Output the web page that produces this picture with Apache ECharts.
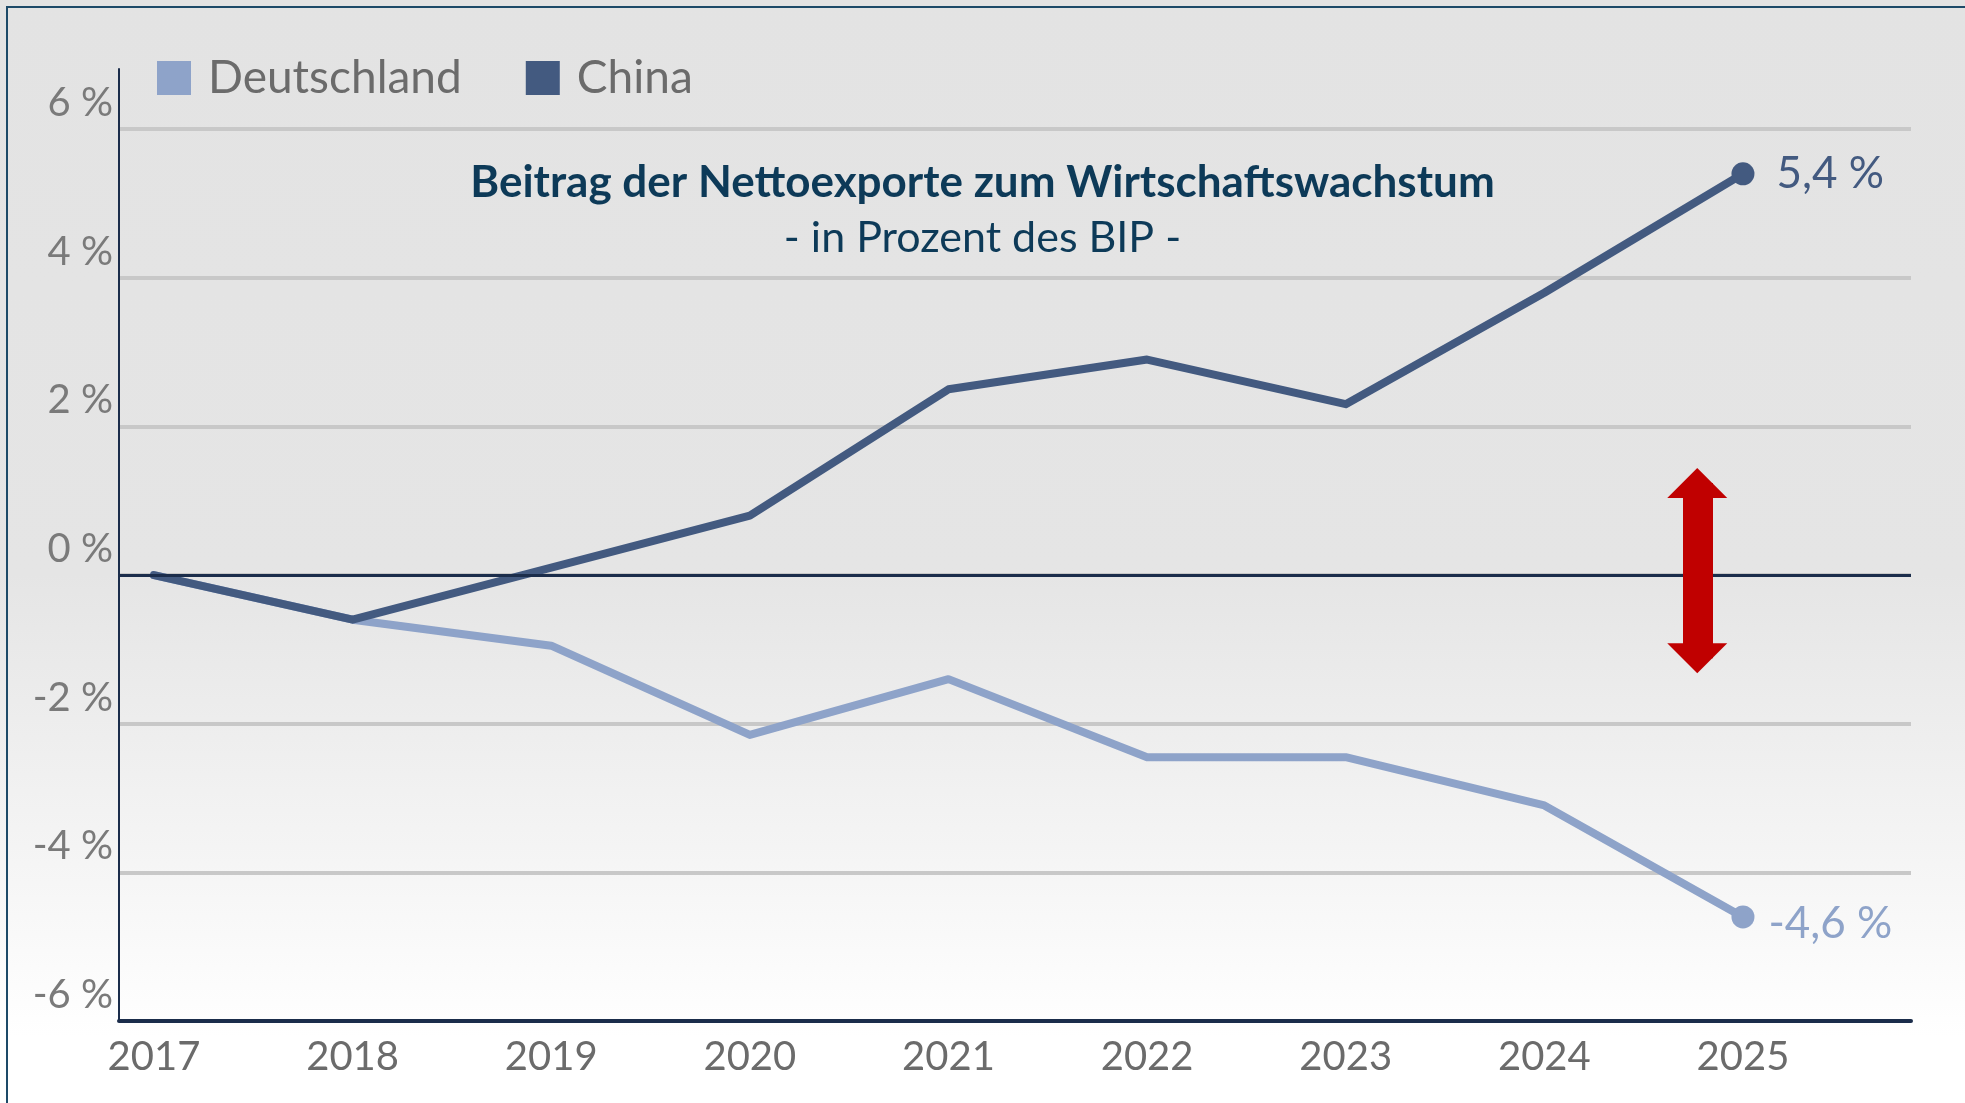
<!DOCTYPE html>
<html>
<head>
<meta charset="utf-8">
<script src="https://cdn.jsdelivr.net/npm/echarts@6/dist/echarts.min.js"></script>
<style>
  html, body { margin: 0; padding: 0; }
  #chart { width: 1965px; height: 1103px; }
</style>
</head>
<body>
<div id="chart"></div>
<script>
    // Daten
    var years = [2017, 2018, 2019, 2020, 2021, 2022, 2023, 2024, 2025];
    var deutschland = [0, -0.6, -0.95, -2.15, -1.4, -2.45, -2.45, -3.1, -4.6];
    var china = [0, -0.6, 0.1, 0.8, 2.5, 2.9, 2.3, 3.8, 5.4];
    var seriesNames = ['Deutschland', 'China'];
    var arrowYear = 2024.77;
    var arrowRange = [1.24, -1.12];

    var colDe = '#8ea3c9';
    var colCn = '#435a80';
    var navy = '#1b2d4b';
    var font = 'Lato';

    function pct(v) {
        return v.toFixed(1).replace('.', ',') + ' %';
    }

    function buildData(values, color, labelDist, labelOffset) {
        return values.map(function (v, i) {
            var item = { value: [years[i], v] };
            if (i === values.length - 1) {
                item.symbolSize = 23;
                item.label = {
                    show: true, position: 'right', distance: labelDist, offset: labelOffset,
                    formatter: pct(v), color: color,
                    fontFamily: font, fontSize: 44
                };
            }
            return item;
        });
    }

    var chart = echarts.init(document.getElementById('chart'));
    chart.setOption({
        backgroundColor: {
            type: 'linear', x: 0, y: 0, x2: 0, y2: 1,
            colorStops: [
                { offset: 0, color: '#e3e3e3' },
                { offset: 0.52, color: '#e5e5e5' },
                { offset: 0.8, color: '#f6f6f6' },
                { offset: 0.94, color: '#ffffff' },
                { offset: 1, color: '#ffffff' }
            ]
        },
        animation: false,
        graphic: [{
            type: 'rect', silent: true,
            shape: { x: 7, y: 7, width: 2100, height: 1200 },
            style: { fill: 'none', stroke: '#1d4a68', lineWidth: 2 }
        }],
        title: {
            text: 'Beitrag der Nettoexporte zum Wirtschaftswachstum',
            subtext: '- in Prozent des BIP -',
            left: 'center', top: 156, itemGap: 12,
            textStyle: { fontFamily: font, fontWeight: 'bold', fontSize: 44, color: '#0d3a58' },
            subtextStyle: { fontFamily: font, fontSize: 43, color: '#0d3a58' }
        },
        legend: {
            data: seriesNames,
            left: 152, top: 50,
            icon: 'rect', itemWidth: 34, itemHeight: 34, itemGap: 64,
            textStyle: { fontFamily: font, fontSize: 46, color: '#6b6b6b', padding: [0, 0, 0, 12] }
        },
        grid: { left: 119, right: 54, top: 69, bottom: 82 },
        xAxis: {
            type: 'value', min: 2016.824, max: 2025.846,
            axisLine: { onZero: false, lineStyle: { color: navy, width: 4 } },
            axisTick: { show: false },
            splitLine: { show: false },
            axisLabel: {
                customValues: years, margin: 16,
                formatter: function (v) { return String(v); },
                fontFamily: font, fontSize: 40, color: '#6b6b6b'
            }
        },
        yAxis: {
            type: 'value', min: -6, max: 6.81, interval: 2,
            axisLine: { show: true, lineStyle: { color: navy, width: 2 } },
            axisTick: { show: false },
            splitLine: { showMaxLine: false, lineStyle: { color: '#c8c8c8', width: 4 } },
            axisLabel: {
                showMaxLabel: false, margin: 6, verticalAlign: 'bottom', padding: [0, 0, 6, 0],
                formatter: function (v) { return Math.round(v) + ' %'; },
                fontFamily: font, fontSize: 40, color: '#7a7a7a'
            }
        },
        series: [{
            name: 'Deutschland', type: 'line',
            data: buildData(deutschland, colDe, 14, [0, 7]),
            symbol: 'circle', symbolSize: 0,
            color: colDe,
            lineStyle: { width: 8, color: colDe, cap: 'round', join: 'round' },
            markLine: {
                silent: true, symbol: ['none', 'none'],
                label: { show: false },
                lineStyle: { color: navy, width: 3, type: 'solid' },
                data: [{ yAxis: 0 }]
            },
            z: 2
        }, {
            name: 'China', type: 'line',
            data: buildData(china, colCn, 22, [0, 0]),
            symbol: 'circle', symbolSize: 0,
            color: colCn,
            lineStyle: { width: 8, color: colCn, cap: 'round', join: 'round' },
            markLine: {
                silent: true,
                symbol: ['triangle', 'triangle'],
                label: { show: false },
                lineStyle: { color: '#c00000', width: 30, type: 'solid', opacity: 1 },
                data: [[
                    { coord: [arrowYear, arrowRange[0]], symbol: 'triangle', symbolSize: [60, 30] },
                    { coord: [arrowYear, arrowRange[1]], symbol: 'triangle', symbolSize: [60, 30] }
                ]]
            },
            z: 3
        }]
    });
</script>
</body>
</html>
